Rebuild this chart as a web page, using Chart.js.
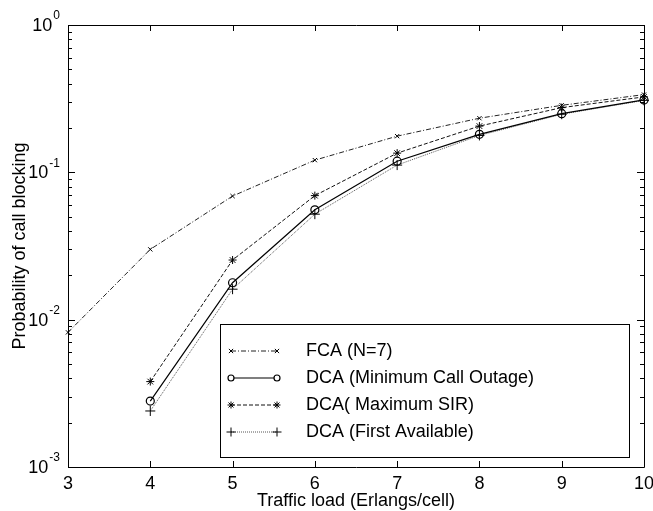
<!DOCTYPE html>
<html>
<head>
<meta charset="utf-8">
<script src="https://cdn.jsdelivr.net/npm/chart.js@4.4.1/dist/chart.umd.min.js"></script>
<style>
  html, body { margin: 0; padding: 0; background: #fff; }
  #wrap { width: 653px; height: 511px; }
</style>
</head>
<body>
<div id="wrap"><canvas id="blocking"></canvas></div>
<script>
// traffic load per cell (Erlangs)
const fcaLoads = [3, 4, 5, 6, 7, 8, 9, 10];
const dcaLoads = [4, 5, 6, 7, 8, 9, 10];

// blocking probability for each scheme
const fcaBlocking = [0.0082, 0.030, 0.069, 0.121, 0.176, 0.233, 0.285, 0.337];
const minOutageBlocking = [0.0028, 0.0178, 0.0557, 0.119, 0.181, 0.250, 0.310];
const maxSirBlocking = [0.0038, 0.0254, 0.0695, 0.135, 0.206, 0.275, 0.325];
const firstAvailBlocking = [0.0024, 0.0161, 0.052, 0.112, 0.178, 0.248, 0.308];

const xTicks = [3, 4, 5, 6, 7, 8, 9, 10];
const yDecades = [0, -1, -2, -3];
const seriesNames = ['FCA (N=7)', 'DCA (Minimum Call Outage)', 'DCA( Maximum SIR)', 'DCA (First Available)'];

const FONT = 'Liberation Sans, Arial, sans-serif';
const TXT = '18px ' + FONT;

function pts(xs, ys) {
    return xs.map((x, i) => ({ x: x, y: ys[i] }));
}

// MATLAB style box axes with inward ticks, superscript labels and a boxed legend
const boxAxes = {
    id: 'boxAxes',
    afterDatasetsDraw(chart) {
        const ctx = chart.ctx;
        const a = chart.chartArea;
        const xs = chart.scales.x, ys = chart.scales.y;
        ctx.save();
        ctx.strokeStyle = '#000';
        ctx.lineWidth = 1;
        ctx.setLineDash([]);
        ctx.beginPath();
        ctx.rect(Math.round(a.left) + 0.5, Math.round(a.top) + 0.5,
            Math.round(a.right - a.left), Math.round(a.bottom - a.top));
        ctx.stroke();

        // x ticks on bottom and top
        ctx.beginPath();
        xTicks.forEach(v => {
            const px = Math.round(xs.getPixelForValue(v)) + 0.5;
            ctx.moveTo(px, a.bottom); ctx.lineTo(px, a.bottom - 6);
            ctx.moveTo(px, a.top); ctx.lineTo(px, a.top + 6);
        });
        // y ticks, major and minor, on left and right
        yDecades.forEach(e => {
            for (let m = 1; m <= 9; m++) {
                const v = m * Math.pow(10, e);
                if (e === 0 && m > 1) continue;
                const py = Math.round(ys.getPixelForValue(v)) + 0.5;
                const len = m === 1 ? 7 : 4;
                ctx.moveTo(a.left, py); ctx.lineTo(a.left + len, py);
                ctx.moveTo(a.right, py); ctx.lineTo(a.right - len, py);
            }
        });
        ctx.stroke();

        // tick labels
        ctx.fillStyle = '#000';
        ctx.font = TXT;
        ctx.textAlign = 'center';
        ctx.textBaseline = 'middle';
        xTicks.forEach(v => {
            ctx.fillText(String(v), xs.getPixelForValue(v), a.bottom + 17);
        });
        yDecades.forEach(e => {
            const py = ys.getPixelForValue(Math.pow(10, e));
            const exp = String(e);
            ctx.font = '12px ' + FONT;
            const ew = ctx.measureText(exp).width;
            ctx.textAlign = 'left';
            ctx.fillText(exp, a.left - 8 - ew, py - 9);
            ctx.font = TXT;
            ctx.textAlign = 'right';
            ctx.fillText('10', a.left - 9 - ew, py + 1);
        });

        // axis titles
        ctx.textAlign = 'center';
        ctx.font = TXT;
        ctx.fillText('Traffic load (Erlangs/cell)', (a.left + a.right) / 2, a.bottom + 34);
        ctx.save();
        ctx.translate(20, (a.top + a.bottom) / 2);
        ctx.rotate(-Math.PI / 2);
        ctx.fillText('Probability of call blocking', 0, 0);
        ctx.restore();

        // legend
        const lx = 220, ly = 324, lw = 409, lh = 133;
        ctx.fillStyle = '#fff';
        ctx.fillRect(lx, ly, lw, lh);
        ctx.strokeStyle = '#000';
        ctx.lineWidth = 1;
        ctx.strokeRect(lx + 0.5, ly + 0.5, lw, lh);
        chart.data.datasets.forEach((ds, i) => {
            const y = ly + 27 + i * 27;
            ctx.save();
            ctx.strokeStyle = ds.borderColor;
            ctx.lineWidth = ds.borderWidth;
            ctx.setLineDash(ds.borderDash || []);
            ctx.beginPath();
            ctx.moveTo(231, y); ctx.lineTo(277, y);
            ctx.stroke();
            ctx.setLineDash([]);
            const opts = { pointStyle: ds.pointStyle, radius: ds.legendRadius, rotation: 0, borderWidth: 1 };
            ctx.strokeStyle = ds.pointBorderColor;
            ctx.fillStyle = '#fff';
            Chart.helpers.drawPoint(ctx, opts, 231, y);
            Chart.helpers.drawPoint(ctx, opts, 277, y);
            ctx.restore();
            ctx.fillStyle = '#000';
            ctx.font = TXT;
            ctx.textAlign = 'left';
            ctx.fillText(ds.label, 306, y);
        });
        ctx.restore();
    }
};

document.addEventListener('DOMContentLoaded', function() {
    const ctx = document.getElementById('blocking').getContext('2d');
    new Chart(ctx, {
        type: 'line',
        data: {
            datasets: [{
                label: seriesNames[0],
                data: pts(fcaLoads, fcaBlocking),
                borderColor: '#222',
                borderWidth: 1,
                borderDash: [5, 2, 1, 2],
                pointStyle: 'crossRot',
                pointRadius: 3,
                legendRadius: 3,
                pointBorderColor: '#000',
                pointBackgroundColor: '#fff'
            }, {
                label: seriesNames[1],
                data: pts(dcaLoads, minOutageBlocking),
                borderColor: '#000',
                borderWidth: 1.2,
                pointStyle: 'circle',
                pointRadius: 4,
                legendRadius: 3,
                pointBorderColor: '#000',
                pointBackgroundColor: 'rgba(0,0,0,0)'
            }, {
                label: seriesNames[2],
                data: pts(dcaLoads, maxSirBlocking),
                borderColor: '#111',
                borderWidth: 1,
                borderDash: [4, 2],
                pointStyle: 'star',
                pointRadius: 4,
                legendRadius: 3.5,
                pointBorderColor: '#000',
                pointBackgroundColor: '#000'
            }, {
                label: seriesNames[3],
                data: pts(dcaLoads, firstAvailBlocking),
                borderColor: '#555',
                borderWidth: 1,
                borderDash: [1, 1],
                pointStyle: 'cross',
                pointRadius: 5,
                legendRadius: 4.5,
                pointBorderColor: '#000',
                pointBackgroundColor: '#000'
            }]
        },
        options: {
            responsive: true,
            maintainAspectRatio: false,
            animation: false,
            layout: {
                padding: { left: 68, right: 9, top: 25, bottom: 44 }
            },
            elements: {
                line: { tension: 0, fill: false },
                point: { borderWidth: 1, hoverRadius: 5 }
            },
            datasets: {
                line: { clip: false }
            },
            scales: {
                x: {
                    type: 'linear',
                    min: 3,
                    max: 10,
                    display: false
                },
                y: {
                    type: 'logarithmic',
                    min: 0.001,
                    max: 1,
                    display: false
                }
            },
            plugins: {
                legend: { display: false },
                tooltip: { enabled: false }
            }
        },
        plugins: [boxAxes]
    });
});
</script>
</body>
</html>
